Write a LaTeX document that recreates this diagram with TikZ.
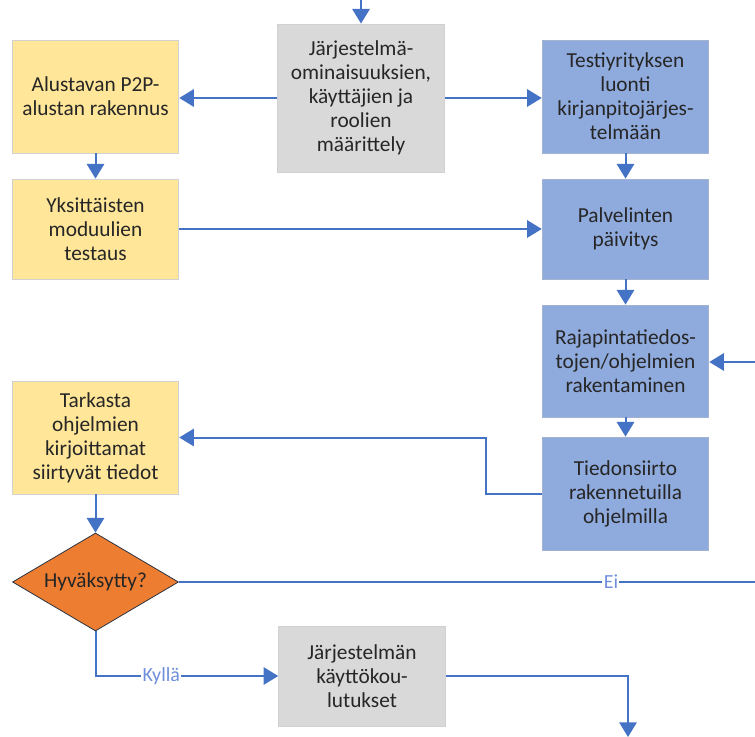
\documentclass[tikz,border=0pt]{standalone}
\usepackage{fontspec}
\setmainfont{Carlito}
\usetikzlibrary{arrows.meta,shapes.geometric}
\definecolor{boxyellow}{HTML}{FFE699}
\definecolor{boxgray}{HTML}{D9D9D9}
\definecolor{boxblue}{HTML}{8FAADC}
\definecolor{decorange}{HTML}{ED7D31}
\definecolor{flowblue}{HTML}{4472C4}
\definecolor{labelblue}{HTML}{6F8FDB}
\definecolor{textdark}{HTML}{262626}
\tikzset{
  box/.style={rectangle, draw=black!18, line width=0.6pt, align=center,
    minimum width=125pt, inner sep=2pt, text=textdark,
    font=\fontsize{16}{18}\selectfont},
  ybox/.style={box, fill=boxyellow},
  gbox/.style={box, fill=boxgray},
  bbox/.style={box, fill=boxblue, draw=boxblue!85!black!70},
  decision/.style={diamond, shape aspect=1.69, fill=decorange,
    draw=black!70!boxblue, line width=0.6pt,
    minimum width=124.5pt, minimum height=73.5pt, inner sep=0pt, text=textdark,
    font=\fontsize{16}{18}\selectfont},
  flow/.style={draw=flowblue, line width=1.5pt,
    -{Triangle[width=13pt,length=11pt]}},
  plainflow/.style={draw=flowblue, line width=1.5pt},
  edgelabel/.style={fill=white, text=labelblue, inner sep=1pt,
    font=\fontsize{15}{18}\selectfont}
}
\begin{document}
\begin{tikzpicture}[x=0.75pt, y=-0.75pt]
\useasboundingbox (0,0) rectangle (755,737);

% top row
\node[ybox, minimum height=84.75pt] (alusta) at (95.5,96.5) {Alustavan P2P-\\alustan rakennus};
\node[gbox, minimum height=111pt] (maarit) at (361,98) {Järjestelmä-\\ominaisuuksien,\\käyttäjien ja\\roolien\\määrittely};
\node[bbox, minimum height=84.75pt] (testi) at (625.5,96.5) {Testiyrityksen\\luonti\\kirjanpitojärjes-\\telmään};

% second row
\node[ybox, minimum height=75pt] (moduuli) at (95.5,229) {Yksittäisten\\moduulien\\testaus};
\node[bbox, minimum height=75pt] (palvelin) at (625.5,229) {Palvelinten\\päivitys};

% right column
\node[bbox, minimum height=84pt] (rajapinta) at (625.5,361) {Rajapintatiedos-\\tojen/ohjelmien\\rakentaminen};
\node[bbox, minimum height=84.75pt] (siirto) at (625.5,493.5) {Tiedonsiirto\\rakennetuilla\\ohjelmilla};

% checking and decision
\node[ybox, minimum height=84.75pt] (tarkasta) at (95.5,437.5) {Tarkasta\\ohjelmien\\kirjoittamat\\siirtyvät tiedot};
\node[decision] (hyvaksytty) at (95.5,582) {Hyväksytty?};
\node[gbox, minimum height=75pt] (koulutus) at (362,676) {Järjestelmän\\käyttökou-\\lutukset};

% free ends of connectors
\coordinate (topin) at (361,0);
\coordinate (rightin) at (755,362);
\coordinate (eiend) at (755,582);
\coordinate (siirtobend) at (486,494);
\coordinate (koulbend) at (628,676);
\coordinate (bottomout) at (628,737);

% connectors
\draw[flow] (topin) -- (maarit.north);
\draw[flow] (maarit.west) -- (maarit.west -| alusta.east);
\draw[flow] (maarit.east) -- (maarit.east -| testi.west);
\draw[flow] (alusta.south) -- (moduuli.north);
\draw[flow] (testi.south) -- (palvelin.north);
\draw[flow] (moduuli.east) -- (palvelin.west);
\draw[flow] (palvelin.south) -- (rajapinta.north);
\draw[flow] (rajapinta.south) -- (siirto.north);
\draw[flow] (rightin) -- (rightin -| rajapinta.east);
\draw[flow] (siirto.west |- siirtobend) -- (siirtobend) |- (tarkasta.east);
\draw[flow] (tarkasta.south) -- (hyvaksytty.north);
\draw[plainflow] (hyvaksytty.east) -- node[edgelabel, pos=0.75] {Ei} (eiend);
\draw[flow] (hyvaksytty.south) |- node[edgelabel, pos=0.68] {Kyllä} (koulutus.west);
\draw[flow] (koulutus.east) -- (koulbend) -- (bottomout);
\end{tikzpicture}
\end{document}
